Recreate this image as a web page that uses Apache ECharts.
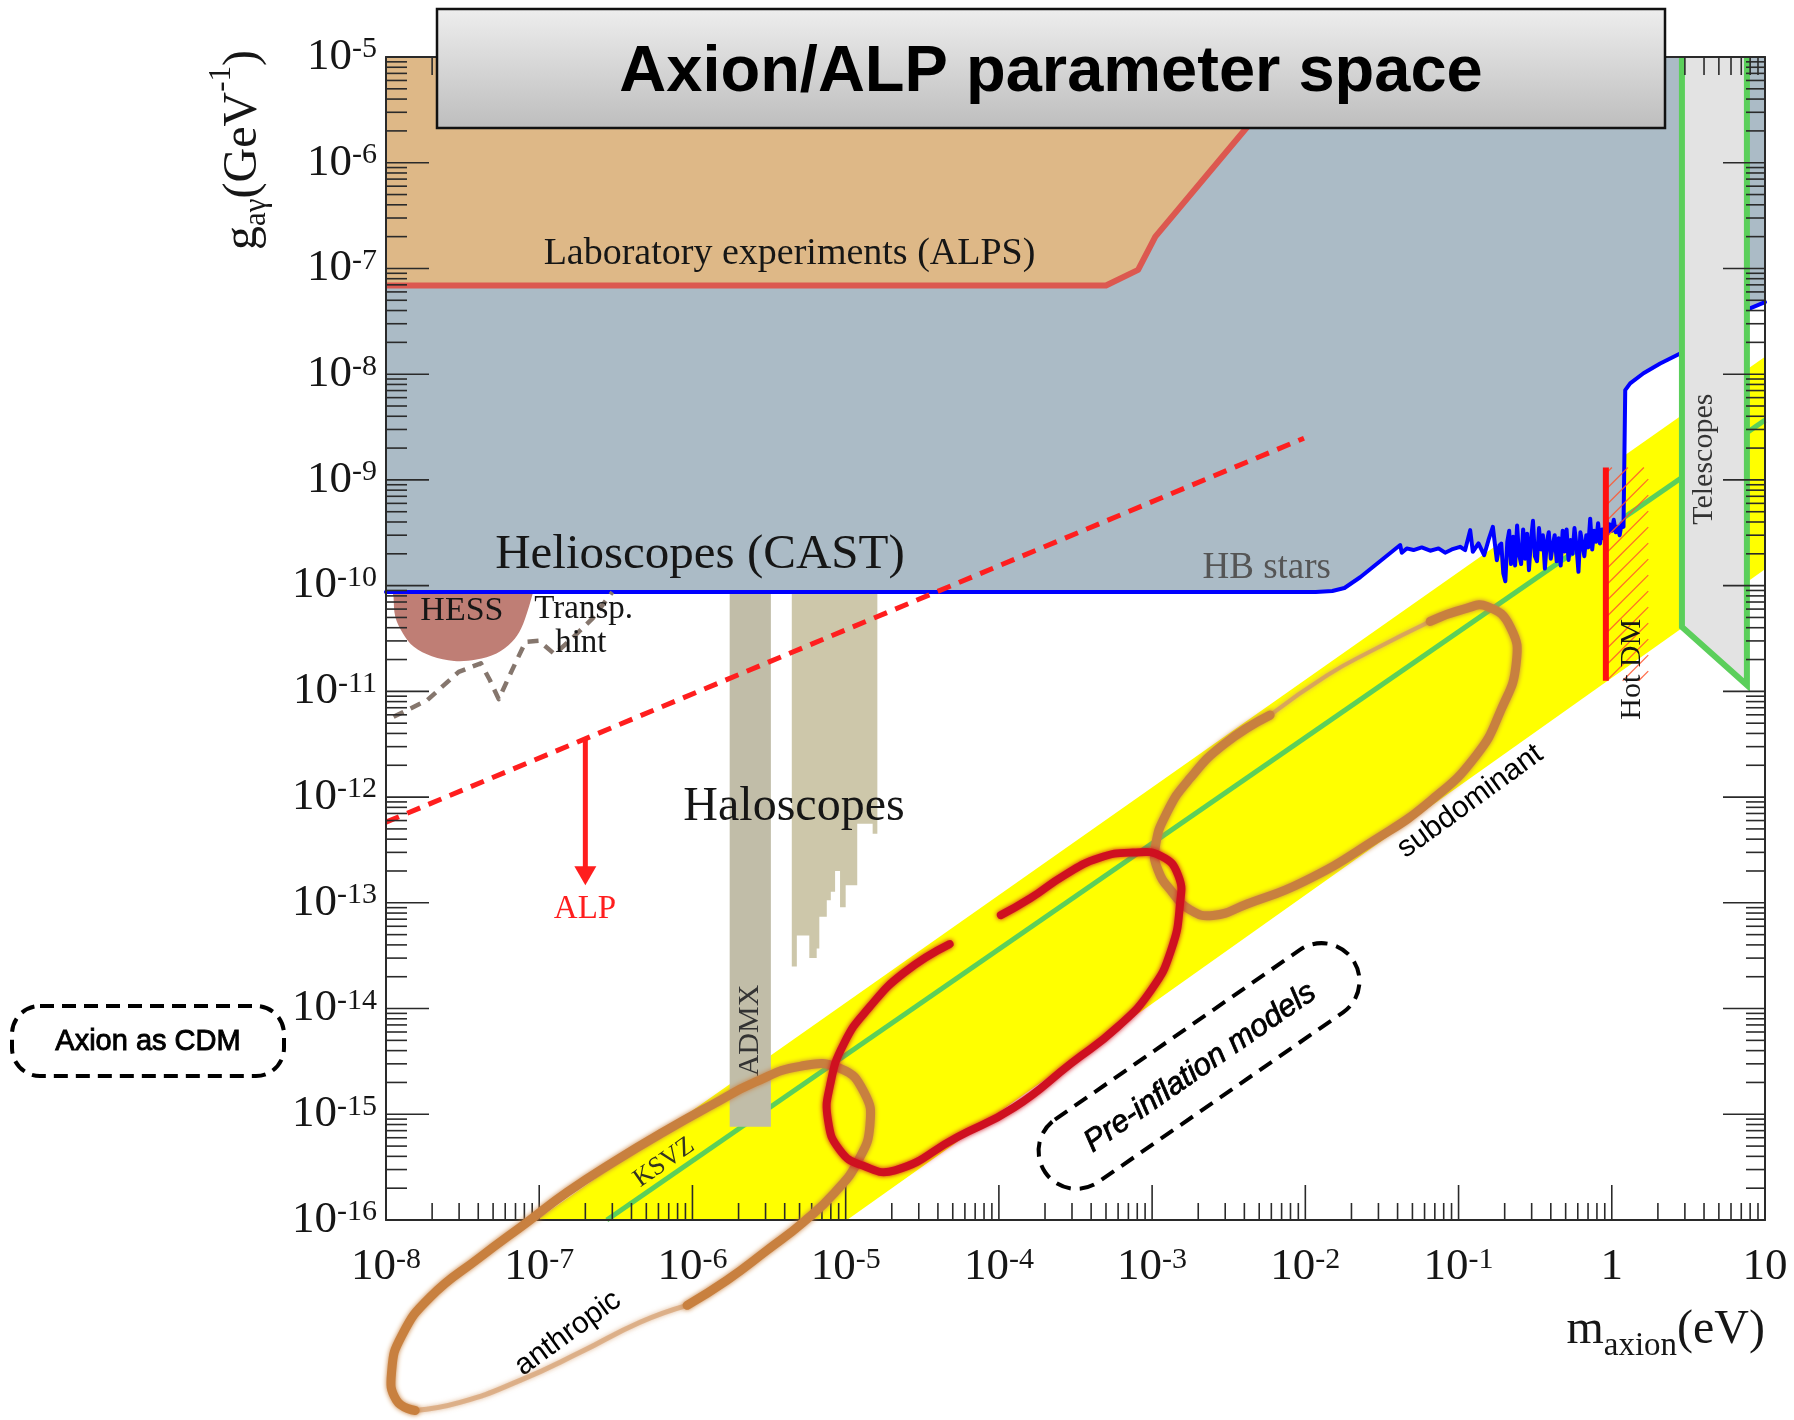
<!DOCTYPE html>
<html>
<head>
<meta charset="utf-8">
<title>Axion/ALP parameter space</title>
<script src="https://cdn.jsdelivr.net/npm/echarts@6/dist/echarts.min.js"></script>
<style>
  html, body { margin: 0; padding: 0; background: #ffffff; }
  #chart { width: 1794px; height: 1420px; }
</style>
</head>
<body>
<div id="chart"></div>
<script>
// ---------------- axis decades (tick labels) ----------------
const massDecades = [-8, -7, -6, -5, -4, -3, -2, -1, 0, 1];                 // m_axion, 10^n eV
const couplingDecades = [-16, -15, -14, -13, -12, -11, -10, -9, -8, -7, -6, -5]; // g_aγ, 10^n GeV^-1

// ---------------- exclusion regions and limits: [mass (eV), g (GeV^-1)] ----------------
const alpsBoundary = [[1e-8, 6.9e-8], [5.0e-4, 6.9e-8], [8.1e-4, 9.7e-8], [1.05e-3, 2.0e-7], [4.2e-3, 2.2e-6], [1.0e-2, 1e-5]];

const castLimit = [
  [1e-8, 8.7e-11], [0.0117, 8.7e-11], [0.0150, 8.9e-11], [0.0180, 9.5e-11], [0.0228, 1.2e-10],
  [0.0416, 2.42e-10], [0.0426, 2.05e-10], [0.0459, 2.25e-10], [0.0508, 2.17e-10], [0.0575, 2.30e-10],
  [0.0653, 2.14e-10], [0.0740, 2.25e-10], [0.0817, 2.05e-10], [0.0903, 2.20e-10], [0.1023, 2.33e-10],
  [0.1104, 2.17e-10], [0.1191, 3.35e-10], [0.1239, 2.09e-10], [0.1349, 2.51e-10], [0.1469, 1.94e-10],
  [0.1567, 2.69e-10], [0.1674, 3.60e-10], [0.1778, 1.74e-10], [0.1850, 2.40e-10],
  [0.190, 2.5e-10], [0.196, 1.3e-10], [0.202, 1.1e-10], [0.208, 2.6e-10], [0.214, 3.3e-10],
  [0.220, 1.6e-10], [0.227, 2.9e-10], [0.234, 1.55e-10], [0.241, 3.7e-10], [0.248, 2.0e-10],
  [0.256, 1.6e-10], [0.264, 3.4e-10], [0.272, 1.8e-10], [0.280, 3.1e-10], [0.288, 1.4e-10],
  [0.297, 2.7e-10], [0.306, 4.1e-10], [0.315, 1.9e-10], [0.325, 1.7e-10], [0.335, 3.5e-10],
  [0.345, 2.2e-10], [0.355, 3.0e-10], [0.366, 1.45e-10], [0.377, 2.6e-10], [0.388, 3.2e-10],
  [0.400, 1.8e-10], [0.412, 2.4e-10], [0.424, 3.0e-10], [0.437, 1.7e-10], [0.450, 2.8e-10],
  [0.464, 1.55e-10], [0.478, 3.3e-10], [0.492, 2.1e-10], [0.507, 3.4e-10], [0.522, 1.75e-10],
  [0.538, 2.7e-10], [0.554, 2.0e-10], [0.571, 3.5e-10], [0.588, 2.4e-10], [0.606, 1.35e-10],
  [0.624, 3.2e-10], [0.643, 2.5e-10], [0.662, 1.9e-10], [0.682, 3.0e-10], [0.702, 2.3e-10],
  [0.723, 4.3e-10], [0.745, 2.2e-10], [0.767, 3.3e-10], [0.790, 2.6e-10], [0.814, 3.9e-10],
  [0.838, 2.5e-10], [0.863, 3.4e-10], [0.889, 2.8e-10], [0.916, 4.6e-10], [0.943, 3.1e-10],
  [0.971, 3.8e-10], [1.000, 3.3e-10], [1.030, 4.2e-10], [1.061, 3.2e-10], [1.093, 3.6e-10],
  [1.126, 3.0e-10], [1.160, 3.9e-10], [1.193, 3.6e-10],
  [1.224, 7.07e-9], [1.318, 8.18e-9], [1.611, 1.02e-8], [2.070, 1.26e-8], [2.797, 1.57e-8],
  [7.70, 4.1e-8], [10, 4.8e-8]
];

const hessRegion = [
  [1.12e-8, 8.7e-11], [1.12e-8, 7.83e-11], [1.15e-8, 5.07e-11], [1.29e-8, 3.53e-11], [1.52e-8, 2.64e-11],
  [1.99e-8, 2.15e-11], [2.78e-8, 1.94e-11], [3.89e-8, 2.00e-11], [5.26e-8, 2.28e-11], [6.65e-8, 2.94e-11],
  [7.62e-8, 3.94e-11], [8.43e-8, 5.86e-11], [9.0e-8, 8.13e-11], [9.1e-8, 8.7e-11]
];

const transparencyHint = [
  [1.12e-8, 5.74e-12], [1.86e-8, 8.26e-12], [2.98e-8, 1.53e-11], [4.16e-8, 1.84e-11], [4.76e-8, 1.28e-11],
  [5.44e-8, 8.44e-12], [6.65e-8, 1.59e-11], [8.14e-8, 2.94e-11], [9.95e-8, 3.01e-11], [1.26e-7, 2.25e-11],
  [1.59e-7, 3.05e-11], [2.23e-7, 4.90e-11], [3.0e-7, 8.7e-11]
];

const alpLine = [[1e-8, 5.8e-13], [9.8e-3, 2.48e-9]];
const alpArrow = [[2e-7, 3.5e-12], [2e-7, 1.47e-13]];

const admxBar = [[1.75e-6, 8.7e-11], [1.75e-6, 7.6e-16], [3.25e-6, 7.6e-16], [3.25e-6, 8.7e-11]];
// haloscope steps: [mass from, mass to, lower g reach]
const haloscopeSteps = [
  [4.45e-6, 4.80e-6, 2.5e-14], [4.80e-6, 5.79e-6, 4.9e-14], [5.79e-6, 6.47e-6, 3.0e-14],
  [6.47e-6, 6.73e-6, 3.7e-14], [6.73e-6, 7.53e-6, 7.4e-14], [7.53e-6, 8.00e-6, 1.06e-13],
  [8.00e-6, 8.53e-6, 1.27e-13], [8.53e-6, 9.19e-6, 2.0e-13], [9.19e-6, 1.00e-5, 9.1e-14],
  [1.00e-5, 1.19e-5, 1.47e-13], [1.19e-5, 1.50e-5, 5.6e-13], [1.50e-5, 1.61e-5, 4.5e-13]
];
const haloscopeTopG = 8.7e-11;

const axionBand = [[9.6e-8, 1e-16], [10, 1.46e-8], [10, 1.43e-10], [1.02e-5, 1e-16]];
const ksvzLine = [[2.76e-7, 1e-16], [10, 3.68e-9]];
const telescopeRegion = [[2.87, 1e-5], [2.87, 4.07e-11], [7.62, 1.15e-11], [7.62, 1e-5]];
const hotDmLimit = [[0.915, 1.31e-9], [0.915, 1.26e-11]];
const hotDmHatchEdge = 1.73;

// ---------------- hand-drawn highlight loops ----------------
const anthropicLoop = [
  [1.55e-8, 1.58e-18], [1.17e-8, 1.97e-18], [1.09e-8, 3.78e-18], [1.27e-8, 8.11e-18], [1.94e-8, 1.86e-17],
  [4.11e-8, 4.44e-17], [8.32e-8, 9.51e-17], [1.52e-7, 1.83e-16], [3.03e-7, 3.51e-16], [6.43e-7, 6.76e-16],
  [1.36e-6, 1.24e-15], [2.56e-6, 2.01e-15], [5.04e-6, 2.84e-15], [9.19e-6, 2.72e-15], [1.32e-5, 1.61e-15],
  [1.44e-5, 7.87e-16], [1.21e-5, 3.67e-16], [8.53e-6, 1.83e-16], [5.28e-6, 9.51e-17], [3.07e-6, 5.17e-17],
  [1.68e-6, 2.69e-17], [9.23e-7, 1.56e-17]
];
const anthropicLoopFaint = [
  [9.23e-7, 1.56e-17], [4.55e-7, 1.08e-17], [1.85e-7, 5.60e-18], [7.50e-8, 3.04e-18], [3.04e-8, 1.88e-18], [1.55e-8, 1.58e-18]
];
const subdominantLoop = [
  [0.0653, 4.59e-11], [0.1096, 6.03e-11], [0.1545, 6.34e-11], [0.218, 4.05e-11],
  [0.2377, 1.82e-11], [0.1897, 6.74e-12], [0.1303, 2.48e-12], [0.0653, 9.16e-13], [0.0277, 3.84e-13],
  [0.00986, 1.60e-13], [0.00417, 9.75e-14], [0.00249, 7.59e-14], [0.00177, 8.59e-14], [0.00136, 1.25e-13],
  [0.00109, 2.06e-13], [0.00105, 3.39e-13], [0.00125, 7.15e-13], [0.00177, 1.51e-12], [0.00296, 3.18e-12],
  [0.00589, 5.96e-12]
];
const subdominantLoopFaint = [[0.00589, 5.96e-12], [0.0139, 1.42e-11], [0.0277, 2.46e-11], [0.0653, 4.59e-11]];
const preInflationLoop = [
  [4.77e-5, 4.07e-14], [2.40e-5, 2.18e-14], [1.43e-5, 1.03e-14], [9.77e-6, 4.70e-15], [7.91e-6, 1.88e-15],
  [7.67e-6, 8.77e-16], [9.19e-6, 4.56e-16], [1.28e-5, 3.29e-16], [2.10e-5, 2.95e-16], [5.33e-5, 6.06e-16],
  [1.26e-4, 1.16e-15], [2.96e-4, 3.03e-15], [5.92e-4, 6.65e-15], [9.84e-4, 1.49e-14], [1.33e-3, 3.56e-14],
  [1.52e-3, 9.70e-14], [1.48e-3, 1.82e-13], [1.15e-3, 2.76e-13], [7.48e-4, 2.99e-13], [4.45e-4, 2.64e-13],
  [2.67e-4, 1.82e-13], [1.60e-4, 1.10e-13], [1.03e-4, 7.64e-14]
];

// ---------------- fonts / colours ----------------
const SERIF = '"Liberation Serif","Times New Roman",serif';
const SANS = '"Liberation Sans",Arial,Helvetica,sans-serif';
const INK = '#161616';

// text placed in data coordinates
const annotations = [
  { text: 'Laboratory experiments (ALPS)', at: [4.3e-6, 1.37e-7], size: 38 },
  { text: 'Helioscopes (CAST)', at: [1.12e-6, 1.95e-10], size: 49 },
  { text: 'HB stars', at: [5.6e-3, 1.47e-10], size: 37, color: '#555555' },
  { text: 'HESS', at: [3.13e-8, 5.74e-11], size: 34 },
  { text: 'Transp.', at: [1.95e-7, 6.0e-11], size: 33 },
  { text: 'hint', at: [1.87e-7, 2.86e-11], size: 33 },
  { text: 'Haloscopes', at: [4.6e-6, 8.0e-13], size: 48 },
  { text: 'ALP', at: [1.99e-7, 8.7e-14], size: 33, color: '#ff1e1e' },
  { text: 'ADMX', at: [2.38e-6, 6.2e-15], size: 30, rot: 90, color: '#333333' },
  { text: 'KSVZ', at: [6.53e-7, 3.5e-16], size: 26, rot: 35, color: '#333322' },
  { text: 'Telescopes', at: [4.01, 1.57e-9], size: 30, rot: 90, color: '#333333' },
  { text: 'Hot DM', at: [1.36, 1.62e-11], size: 30, rot: 90 },
  { text: 'subdominant', at: [0.119, 9.1e-13], size: 30, rot: 36, family: SANS, color: '#000' },
  { text: 'anthropic', at: [1.54e-7, 8.5e-18], size: 30, rot: 36, family: SANS, color: '#000' }
];

// ---------------- helpers ----------------
const lg = Math.log10;
const toXY = p => [lg(p[0]), lg(p[1])];
const X_MIN = massDecades[0], X_MAX = massDecades[massDecades.length - 1];
const Y_MIN = couplingDecades[0], Y_MAX = couplingDecades[couplingDecades.length - 1];

function shapeSeries(id, pts, z, build) {
  const data = pts.map(toXY);
  return {
    id, type: 'custom', coordinateSystem: 'cartesian2d', z, silent: true, clip: false,
    animation: false, data,
    renderItem: (params, api) => params.dataIndex === 0 ? build(data.map(d => api.coord(d)), api) : null
  };
}
const polygon = (id, pts, z, style, smooth) =>
  shapeSeries(id, pts, z, p => ({ type: 'polygon', shape: { points: p, smooth: smooth || 0 }, style }));
const polyline = (id, pts, z, style, smooth) =>
  shapeSeries(id, pts, z, p => ({ type: 'polyline', shape: { points: p, smooth: smooth || 0 },
    style: Object.assign({ fill: null, lineJoin: 'round', lineCap: 'round' }, style) }));

function stroke(color, width, extra) {
  return Object.assign({ stroke: color, lineWidth: width }, extra || {});
}
function chalk(color, width, alpha) {
  return { stroke: color, lineWidth: width, opacity: alpha == null ? 1 : alpha,
           shadowBlur: 5, shadowColor: color };
}

// haloscope steps -> outline (left edge down, stepped floor, right edge up)
const haloscopeOutline = [[haloscopeSteps[0][0], haloscopeTopG]];
haloscopeSteps.forEach(s => { haloscopeOutline.push([s[0], s[2]]); haloscopeOutline.push([s[1], s[2]]); });
haloscopeOutline.push([haloscopeSteps[haloscopeSteps.length - 1][1], haloscopeTopG]);

// CAST excluded area: top of the plot down to the limit curve
const castArea = [[1e-8, 1e-5], [10, 1e-5]].concat(castLimit.slice().reverse());
// ALPS excluded area: top of the plot down to the ALPS boundary
const alpsArea = [[1e-8, 1e-5]].concat(alpsBoundary);

// logarithmic tick positions
const xMinor = [], yMinor = [];
for (let n = X_MIN; n < X_MAX; n++) for (let k = 2; k <= 9; k++) xMinor.push(n + lg(k));
for (let n = Y_MIN; n < Y_MAX; n++) for (let k = 2; k <= 9; k++) yMinor.push(n + lg(k));
const xMajor = massDecades.slice(1, -1);
const yMajor = couplingDecades.slice(1, -1);

function tickSeries(id, values, axis, lenNear, lenFar) {
  const data = values.map(v => axis === 'x' ? [v, Y_MIN] : [X_MIN, v]);
  return {
    id, type: 'custom', coordinateSystem: 'cartesian2d', z: 30, silent: true, clip: false,
    animation: false, data,
    renderItem(params, api) {
      const st = { stroke: '#2a2a2a', lineWidth: 1.6 };
      if (axis === 'x') {
        const v = api.value(0);
        const b = api.coord([v, Y_MIN]), t = api.coord([v, Y_MAX]);
        return { type: 'group', children: [
          { type: 'line', shape: { x1: b[0], y1: b[1], x2: b[0], y2: b[1] - lenNear }, style: st },
          { type: 'line', shape: { x1: t[0], y1: t[1], x2: t[0], y2: t[1] + lenFar }, style: st }
        ] };
      }
      const v = api.value(1);
      const l = api.coord([X_MIN, v]), r = api.coord([X_MAX, v]);
      return { type: 'group', children: [
        { type: 'line', shape: { x1: l[0], y1: l[1], x2: l[0] + lenNear, y2: l[1] }, style: st },
        { type: 'line', shape: { x1: r[0], y1: r[1], x2: r[0] - lenFar, y2: r[1] }, style: st }
      ] };
    }
  };
}

// ---------------- series ----------------
const series = [
  polygon('axionBand', axionBand, 3, { fill: '#ffff00' }),
  polyline('ksvz', ksvzLine, 4, stroke('#5bcf5b', 5, { lineCap: 'butt' })),
  polygon('admx', admxBar, 5, { fill: '#c1bda8' }),
  polygon('haloscopes', haloscopeOutline, 5, { fill: '#cdc7aa' }),
  polygon('castArea', castArea, 6, { fill: '#abbbc6' }),
  polygon('alpsArea', alpsArea, 7, { fill: '#deb887' }),
  polyline('alpsBoundary', alpsBoundary, 8, stroke('#dc5850', 6, { lineCap: 'butt' })),
  polygon('hess', hessRegion, 8, { fill: '#bf7e75' }, 0.35),
  polyline('castLimit', castLimit, 9, stroke('#0000ff', 4)),
  polyline('transparencyHint', transparencyHint, 9, stroke('#85766d', 4.5, { lineDash: [11, 8], lineCap: 'butt' })),
  shapeSeries('telescopes', telescopeRegion, 10, p => ({ type: 'group', children: [
    { type: 'polygon', shape: { points: p }, style: { fill: '#e3e3e3' } },
    { type: 'polyline', shape: { points: p }, style: { fill: null, stroke: '#5bcf5b', lineWidth: 6, lineJoin: 'miter' } }
  ] })),
  // hot dark matter bound with hatching to the allowed side
  shapeSeries('hotDM', hotDmLimit, 10, (p, api) => {
    const x1 = p[0][0], yTop = p[0][1], yBot = p[1][1];
    const x2 = api.coord([lg(hotDmHatchEdge), lg(1e-10)])[0];
    const w = x2 - x1, children = [];
    for (let y0 = yTop + 6; y0 < yBot + w; y0 += 16) {
      let ax = x1, ay = y0, bx = x1 + w, by = y0 - w;
      if (ay > yBot) { ax = x1 + (ay - yBot); ay = yBot; }
      if (by < yTop) { bx = x1 + (y0 - yTop); by = yTop; }
      if (bx > ax) children.push({ type: 'line', shape: { x1: ax, y1: ay, x2: bx, y2: by },
        style: { stroke: 'rgba(255,85,45,0.85)', lineWidth: 1.3 } });
    }
    children.push({ type: 'line', shape: { x1: x1, y1: yTop, x2: x1, y2: yBot },
      style: { stroke: '#ff1010', lineWidth: 6 } });
    return { type: 'group', children };
  }),
  polyline('alpLine', alpLine, 11, stroke('#ff1e1e', 5, { lineDash: [14, 9], lineCap: 'butt' })),
  shapeSeries('alpArrow', alpArrow, 11, p => {
    const [a, b] = p;
    return { type: 'group', children: [
      { type: 'line', shape: { x1: a[0], y1: a[1], x2: b[0], y2: b[1] - 16 }, style: { stroke: '#ff1e1e', lineWidth: 5 } },
      { type: 'polygon', shape: { points: [[b[0] - 11, b[1] - 19], [b[0] + 11, b[1] - 19], [b[0], b[1]]] }, style: { fill: '#ff1e1e' } }
    ] };
  }),
  {
    id: 'annotations', type: 'custom', coordinateSystem: 'cartesian2d', z: 20, silent: true, clip: false,
    animation: false, data: annotations.map(a => toXY(a.at)),
    renderItem(params, api) {
      const a = annotations[params.dataIndex];
      const p = api.coord([api.value(0), api.value(1)]);
      return { type: 'text', x: p[0], y: p[1], rotation: (a.rot || 0) * Math.PI / 180,
        style: { text: a.text, fontSize: a.size, fontFamily: a.family || SERIF, fill: a.color || INK,
                 align: 'center', verticalAlign: 'middle' } };
    }
  },
  tickSeries('xMinorTicks', xMinor, 'x', 17, 18),
  tickSeries('xMajorTicks', xMajor, 'x', 35, 35),
  tickSeries('yMinorTicks', yMinor, 'y', 21, 19),
  tickSeries('yMajorTicks', yMajor, 'y', 43, 42),
  polyline('anthropicFaint', anthropicLoopFaint, 40, chalk('#d6a070', 5, 0.7), 0.5),
  polyline('anthropic', anthropicLoop, 41, chalk('#c8803f', 9), 0.5),
  polyline('subdominantFaint', subdominantLoopFaint, 40, chalk('#d39a68', 4, 0.8), 0.5),
  polyline('subdominant', subdominantLoop, 41, chalk('#c8803f', 9), 0.5),
  polyline('preInflation', preInflationLoop, 41, chalk('#cf1020', 8), 0.5)
];

// ---------------- axes ----------------
const tickLabelRich = {
  b: { fontSize: 45, fontFamily: SERIF, color: INK, lineHeight: 45, padding: [15, 0, 0, 0], verticalAlign: 'bottom' },
  s: { fontSize: 30, fontFamily: SERIF, color: INK, lineHeight: 30, verticalAlign: 'top' }
};
function powerLabel(v) {
  const n = Math.round(v);
  if (n === 0) return '{b|1}';
  if (n === 1) return '{b|10}';
  return '{b|10}{s|' + n + '}';
}
const frame = { show: true, onZero: false, lineStyle: { color: '#2a2a2a', width: 2 } };

const option = {
  backgroundColor: '#ffffff',
  animation: false,
  grid: { left: 386, top: 57, width: 1379, height: 1163, containLabel: false, outerBoundsMode: 'none' },
  xAxis: [
    { type: 'value', position: 'bottom', min: X_MIN, max: X_MAX, interval: 1, z: 25,
      axisLine: frame, axisTick: { show: false }, splitLine: { show: false },
      axisLabel: { margin: 25, formatter: powerLabel, rich: tickLabelRich } },
    { type: 'value', position: 'top', min: X_MIN, max: X_MAX, interval: 1, z: 25,
      axisLine: frame, axisTick: { show: false }, splitLine: { show: false }, axisLabel: { show: false } }
  ],
  yAxis: [
    { type: 'value', position: 'left', min: Y_MIN, max: Y_MAX, interval: 1, z: 25,
      axisLine: frame, axisTick: { show: false }, splitLine: { show: false },
      axisLabel: { margin: 9, formatter: powerLabel, rich: tickLabelRich } },
    { type: 'value', position: 'right', min: Y_MIN, max: Y_MAX, interval: 1, z: 25,
      axisLine: frame, axisTick: { show: false }, splitLine: { show: false }, axisLabel: { show: false } }
  ],
  series,
  graphic: [
    // title banner
    { type: 'rect', z: 100, shape: { x: 437, y: 9, width: 1228, height: 119 },
      style: { fill: new echarts.graphic.LinearGradient(0, 0, 0, 1, [
        { offset: 0, color: '#eeeeee' }, { offset: 1, color: '#bdbdbd' }]), stroke: '#111111', lineWidth: 2.5 } },
    { type: 'text', z: 101, x: 1051, y: 73,
      style: { text: 'Axion/ALP parameter space', fontSize: 65, fontWeight: 'bold', fontFamily: SANS,
               fill: '#000000', align: 'center', verticalAlign: 'middle' } },
    // axis titles
    { type: 'text', z: 60, x: 1765, y: 1306,
      style: { text: '{m|m}{s|axion}{m|(eV)}', align: 'right', verticalAlign: 'top',
        rich: { m: { fontSize: 48, fontFamily: SERIF, fill: INK, color: INK, lineHeight: 48, verticalAlign: 'top' },
                s: { fontSize: 33, fontFamily: SERIF, fill: INK, color: INK, lineHeight: 33, padding: [24, 0, 0, 0], verticalAlign: 'top' } } } },
    { type: 'text', z: 60, x: 230, y: 150, rotation: Math.PI / 2,
      style: { text: '{m|g}{sub|aγ}{m|(GeV}{sup|-1}{m|)}', align: 'center', verticalAlign: 'middle',
        rich: { m: { fontSize: 48, fontFamily: SERIF, fill: INK, color: INK, lineHeight: 48, padding: [13, 0, 0, 0], verticalAlign: 'top' },
                sub: { fontSize: 31, fontFamily: SERIF, fill: INK, color: INK, lineHeight: 31, padding: [35, 0, 0, 0], verticalAlign: 'top' },
                sup: { fontSize: 31, fontFamily: SERIF, fill: INK, color: INK, lineHeight: 31, verticalAlign: 'top' } } } },
    // dashed call-out boxes
    { type: 'rect', z: 60, shape: { x: 12, y: 1006, width: 272, height: 70, r: 28 },
      style: { fill: null, stroke: '#000000', lineWidth: 4, lineDash: [14, 8] } },
    { type: 'text', z: 61, x: 148, y: 1042,
      style: { text: 'Axion as CDM', fontSize: 29, fontFamily: SANS, fill: '#000000', stroke: '#000000', lineWidth: 0.9,
               align: 'center', verticalAlign: 'middle' } },
    { type: 'group', z: 60, x: 1199, y: 1066, rotation: 0.606, children: [
      { type: 'rect', z: 60, shape: { x: -187, y: -38, width: 374, height: 76, r: 38 },
        style: { fill: null, stroke: '#000000', lineWidth: 4, lineDash: [15, 9] } },
      { type: 'text', z: 61, x: 0, y: 2,
        style: { text: 'Pre-inflation models', fontSize: 31, fontStyle: 'italic', fontFamily: SANS,
                 fill: '#000000', stroke: '#000000', lineWidth: 0.8, align: 'center', verticalAlign: 'middle' } }
    ] }
  ]
};

const chart = echarts.init(document.getElementById('chart'), null, { renderer: 'canvas', width: 1794, height: 1420 });
chart.setOption(option);
</script>
</body>
</html>
